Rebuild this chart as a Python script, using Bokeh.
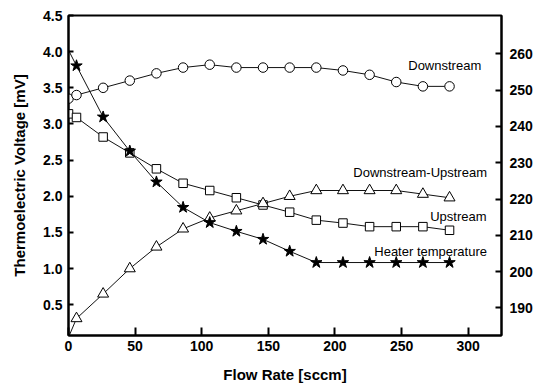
from bokeh.plotting import figure
from bokeh.models import Range1d, LinearAxis, FixedTicker, PrintfTickFormatter
from bokeh.core.properties import value
from bokeh.embed import file_html
from bokeh.resources import INLINE

# Flow rate [sccm]
flow = [0, 6, 26, 46, 66, 86, 106, 126, 146, 166, 186, 206, 226, 246, 266, 286]

# Thermoelectric voltages [mV]
downstream = [3.35, 3.40, 3.50, 3.60, 3.70, 3.78, 3.82, 3.78, 3.78, 3.78, 3.78, 3.74, 3.68, 3.58, 3.52, 3.52]
upstream = [3.14, 3.09, 2.82, 2.60, 2.38, 2.18, 2.08, 1.98, 1.88, 1.78, 1.67, 1.63, 1.58, 1.58, 1.58, 1.53]
difference = [0.05, 0.31, 0.65, 1.00, 1.30, 1.55, 1.70, 1.80, 1.90, 2.00, 2.08, 2.08, 2.08, 2.08, 2.03, 1.98]

# Heater temperature (right axis)
heater = [261.0, 256.7, 242.6, 233.2, 224.7, 217.7, 213.5, 211.1, 208.9, 205.6, 202.5, 202.5, 202.5, 202.5, 202.5, 202.5]

x_ticks = [0, 50, 100, 150, 200, 250, 300]
left_ticks = [0.5, 1.0, 1.5, 2.0, 2.5, 3.0, 3.5, 4.0, 4.5]
right_ticks = [190, 200, 210, 220, 230, 240, 250, 260]

FONT = "Liberation Sans"

p = figure(width=546, height=385, output_backend="svg", toolbar_location=None,
           x_range=Range1d(0, 325), y_range=Range1d(0.075, 4.5),
           min_border_left=68, min_border_right=45, min_border_top=15, min_border_bottom=50)
p.extra_y_ranges = {"temp": Range1d(182.4, 270.55)}

p.grid.visible = False
p.outline_line_color = "black"
p.outline_line_width = 2
p.background_fill_color = "white"
p.border_fill_color = "white"

right_axis = LinearAxis(y_range_name="temp")
p.add_layout(right_axis, "right")

p.xaxis.ticker = FixedTicker(ticks=x_ticks)
p.yaxis[0].ticker = FixedTicker(ticks=left_ticks)
p.yaxis[0].formatter = PrintfTickFormatter(format="%.1f")
right_axis.ticker = FixedTicker(ticks=right_ticks)

for ax in [p.xaxis[0], p.yaxis[0], right_axis]:
    ax.major_tick_out = 0
    ax.minor_tick_in = 0
    ax.minor_tick_out = 0
    ax.axis_line_width = 2
    ax.axis_line_color = "black"
    ax.major_tick_line_width = 2
    ax.major_tick_line_color = "black"
    ax.major_label_text_font = FONT
    ax.major_label_text_font_style = "bold"
    ax.major_label_text_font_size = "14px"
    ax.major_label_text_color = "black"
    ax.axis_label_text_font = FONT
    ax.axis_label_text_font_style = "bold"
    ax.axis_label_text_font_size = "15px"
    ax.axis_label_text_color = "black"

p.xaxis.major_tick_in = 8
p.yaxis[0].major_tick_in = 5
right_axis.major_tick_in = 6
p.xaxis.major_label_standoff = 5
p.yaxis[0].major_label_standoff = 6
right_axis.major_label_standoff = 8

p.xaxis.axis_label = "Flow Rate [sccm]"
p.xaxis.axis_label_standoff = 12
p.yaxis[0].axis_label = "Thermoelectric Voltage [mV]"
p.yaxis[0].axis_label_standoff = 12

LINE = "#111111"

# Downstream
p.line(flow, downstream, line_color=LINE, line_width=1)
p.scatter(flow, downstream, marker="circle", size=9.5, fill_color="white", line_color="black", line_width=1)

# Upstream
p.line(flow, upstream, line_color=LINE, line_width=1)
p.scatter(flow, upstream, marker="square", size=8.5, fill_color="white", line_color="black", line_width=1)

# Downstream-Upstream
p.line(flow, difference, line_color=LINE, line_width=1)
p.scatter(flow[1:], difference[1:], marker="triangle", size=11, fill_color="white", line_color="black", line_width=1)

# Heater temperature
p.line(flow, heater, line_color=LINE, line_width=1, y_range_name="temp")
p.scatter(flow[1:], heater[1:], marker="star", size=12, fill_color="black", line_color="black",
          line_width=1, y_range_name="temp")

labels_x = [255, 213.8, 271.5, 229.5]
labels_y = [3.81, 2.33, 1.72, 1.24]
labels_text = ["Downstream", "Downstream-Upstream", "Upstream", "Heater temperature"]
p.text(labels_x, labels_y, text=labels_text, text_font=value(FONT), text_font_size="13px",
       text_align="left", text_baseline="middle", text_color="black")

open("out.html", "w").write(file_html(p, INLINE))
